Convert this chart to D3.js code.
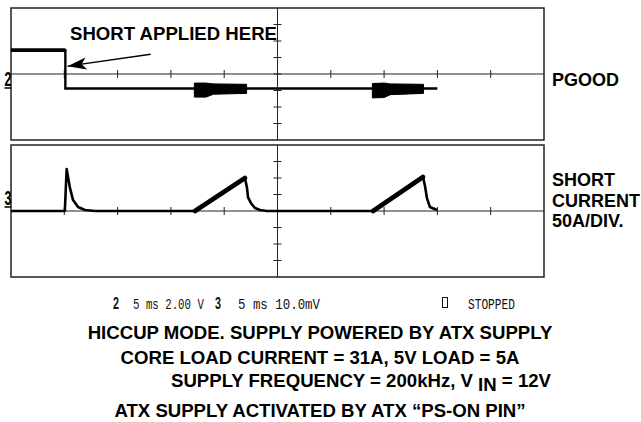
<!DOCTYPE html>
<html><head><meta charset="utf-8">
<script src="https://cdn.jsdelivr.net/npm/d3@7/dist/d3.min.js"></script>
<style>body{margin:0;background:#fff}svg{display:block}</style>
</head><body>
<svg id="c" width="641" height="422"></svg>
<script>
// ---- data ----
const timeDomain = [0, 50];            // ms, 5 ms/div, 10 divisions
const voltDomain = [-8, 8];            // V, 2 V/div, 8 divisions
const ampDomain = [-200, 200];         // A, 50 A/div, 8 divisions
const xTicks = [0,5,10,15,20,25,30,35,40,45,50];
const vTicks = [-8,-6,-4,-2,0,2,4,6,8];
const aTicks = [-200,-150,-100,-50,0,50,100,150,200];

// PGOOD trace (V)
const pgoodT = [0, 5.1, 5.1, 40];
const pgoodV = [2.9, 2.9, -1.75, -1.75];
// PGOOD noise bursts envelope (V)
const burst1T = [17.2, 18.3, 19.0, 22.1];
const burst1Hi = [-1.1, -1.1, -1.2, -1.25];
const burst1Lo = [-2.8, -2.8, -2.45, -2.35];
const burst2T = [33.9, 35.0, 35.6, 38.7];
const burst2Hi = [-1.15, -1.1, -1.2, -1.25];
const burst2Lo = [-2.9, -2.85, -2.5, -2.35];

// short current trace (A)
const curT = [0, 5.05, 5.22, 5.53, 5.82, 6.29, 6.94, 7.9, 17.26, 21.95, 22.14, 22.23, 22.51, 22.89, 23.36, 24.0, 33.96, 38.65, 38.84, 39.02, 39.3, 39.96];
const curA = [0, 0, 127, 70, 33, 12, 3, 0, 0, 100, 70, 42, 24, 9, 3, 0, 0, 103, 75, 39, 12, 3];
const ramps = [[17.26, 21.95], [33.96, 38.65]];

// texts
const rightLabels1 = ["PGOOD"];
const rightLabels2 = ["SHORT", "CURRENT", "50A/DIV."];
const annotation = "SHORT APPLIED HERE";
const scopeInfo = ["2", "5 ms 2.00 V", "3", "5 ms 10.0mV", "STOPPED"];
const captions = ["HICCUP MODE. SUPPLY POWERED BY ATX SUPPLY",
                  "CORE LOAD CURRENT = 31A, 5V LOAD = 5A",
                  "ATX SUPPLY ACTIVATED BY ATX \u201CPS-ON PIN\u201D"];
const freqCaption = ["SUPPLY FREQUENCY = 200kHz, V ", "IN", " = 12V"];

// ---- drawing ----
const svg = d3.select("#c");
const L = 11, R = 544;
const x = d3.scaleLinear().domain(timeDomain).range([L, R]);
const yTop = d3.scaleLinear().domain(voltDomain).range([140, 8]);
const yBot = d3.scaleLinear().domain(ampDomain).range([277, 145]);

function panel(y, ticks) {
  const g = svg.append("g");
  const y0 = y.range()[1], y1 = y.range()[0];
  g.append("rect").attr("x", L).attr("y", y0).attr("width", R - L).attr("height", y1 - y0)
    .attr("fill", "none").attr("stroke", "#222").attr("stroke-width", 1.5);
  const yc = y(0), xc = x(25);
  g.append("line").attr("x1", L).attr("x2", R).attr("y1", yc).attr("y2", yc)
    .attr("stroke", "#222").attr("stroke-width", 1);
  g.append("line").attr("x1", xc).attr("x2", xc).attr("y1", y0).attr("y2", y1)
    .attr("stroke", "#222").attr("stroke-width", 1);
  g.selectAll(".xt").data(xTicks.slice(1, -1)).join("line")
    .attr("x1", d => x(d)).attr("x2", d => x(d)).attr("y1", yc - 4).attr("y2", yc + 4)
    .attr("stroke", "#222").attr("stroke-width", 1);
  g.selectAll(".yt").data(ticks.slice(1, -1)).join("line")
    .attr("y1", d => y(d)).attr("y2", d => y(d)).attr("x1", xc - 4).attr("x2", xc + 4)
    .attr("stroke", "#222").attr("stroke-width", 1);
}
panel(yTop, vTicks);
panel(yBot, aTicks);

// PGOOD trace
const lineTop = d3.line().x(d => x(d[0])).y(d => yTop(d[1]));
svg.append("path").datum(pgoodT.slice(0, 2).map((t, i) => [t, pgoodV[i]]))
  .attr("d", lineTop).attr("fill", "none").attr("stroke", "#000").attr("stroke-width", 3.6);
svg.append("path").datum(pgoodT.map((t, i) => [t, pgoodV[i]]))
  .attr("d", lineTop).attr("fill", "none").attr("stroke", "#000").attr("stroke-width", 2.4);
const areaTop = d3.area().x(d => x(d[0])).y0(d => yTop(d[2])).y1(d => yTop(d[1]));
[[burst1T, burst1Hi, burst1Lo], [burst2T, burst2Hi, burst2Lo]].forEach(([T, H, Lo]) => {
  svg.append("path").datum(T.map((t, i) => [t, H[i], Lo[i]]))
    .attr("d", areaTop).attr("fill", "#000").attr("stroke", "#000").attr("stroke-width", 1);
});

// current trace
const lineBot = d3.line().x(d => x(d[0])).y(d => yBot(d[1]));
const curData = curT.map((t, i) => [t, curA[i]]);
svg.append("path").datum(curData).attr("d", lineBot)
  .attr("fill", "none").attr("stroke", "#000").attr("stroke-width", 2.6).attr("stroke-linejoin", "round");
ramps.forEach(([a, b]) => {
  svg.append("path").datum(curData.filter(d => d[0] >= a && d[0] <= b)).attr("d", lineBot)
    .attr("fill", "none").attr("stroke", "#000").attr("stroke-width", 4.6).attr("stroke-linecap", "round");
});

// text fitted horizontally to a target width by scaling
function fitText(str, x0, yb, width, family, size, weight, fill) {
  const t = svg.append("text").attr("x", 0).attr("y", 0).text(str)
    .attr("font-family", family).attr("font-size", size)
    .attr("font-weight", weight).attr("fill", fill);
  const w = t.node().getComputedTextLength();
  t.attr("transform", `translate(${x0},${yb}) scale(${width / w},1)`);
  return t;
}

// channel markers
const bold = "Liberation Sans, Arial, Helvetica, sans-serif";
function marker(label, yb) {
  fitText(label, 4.5, yb, 7, bold, 21, "bold", "#000");
  svg.append("line").attr("x1", 4.5).attr("x2", 11).attr("y1", yb + 2).attr("y2", yb + 2)
    .attr("stroke", "#000").attr("stroke-width", 1.5);
}
marker("2", 86);
marker("3", 205);

// annotation + arrow
svg.append("text").attr("x", 70).attr("y", 40).text(annotation)
  .attr("font-family", bold).attr("font-weight", "bold").attr("font-size", 18.6).attr("fill", "#000");
const ax1 = x(13.1), ay1 = yTop(2.4), ax2 = x(5.3), ay2 = yTop(0.95);
svg.append("line").attr("x1", ax1).attr("y1", ay1).attr("x2", ax2).attr("y2", ay2)
  .attr("stroke", "#000").attr("stroke-width", 1.4);
svg.append("path").attr("d", (() => {
  const dx = ax1 - ax2, dy = ay1 - ay2, len = Math.hypot(dx, dy);
  const ux = dx / len, uy = dy / len, hl = 19, hw = 6;
  const bx = ax2 + ux * hl, by = ay2 + uy * hl;
  const mx = ax2 + ux * hl * 0.75, my = ay2 + uy * hl * 0.75;
  return `M${ax2},${ay2}L${bx - uy * hw},${by + ux * hw}L${mx},${my}L${bx + uy * hw},${by - ux * hw}Z`;
})()).attr("fill", "#000");

// right labels
svg.append("text").attr("x", 552).attr("y", 86).text(rightLabels1[0])
  .attr("font-family", bold).attr("font-weight", "bold").attr("font-size", 18);
svg.selectAll(".rl2").data(rightLabels2).join("text")
  .attr("x", 552).attr("y", (d, i) => [186, 207, 227][i]).text(d => d)
  .attr("font-family", bold).attr("font-weight", "bold").attr("font-size", 18);

// scope info line
const mono = "Liberation Mono, DejaVu Sans Mono, monospace";
const infoX = [113, 133, 215, 238, 468];
const infoW = [6, 71, 6, 82, 47];
scopeInfo.forEach((s, i) => {
  const isCh = (i === 0 || i === 2);
  fitText(s, infoX[i], 309, infoW[i], isCh ? bold : mono, isCh ? 16 : 14.5,
          isCh ? "bold" : "normal", "#111");
});
svg.append("rect").attr("x", 442.5).attr("y", 297.5).attr("width", 5).attr("height", 10)
  .attr("fill", "none").attr("stroke", "#111").attr("stroke-width", 1);

// captions
svg.selectAll(".cap").data(captions).join("text")
  .attr("x", 320).attr("y", (d, i) => [339, 364, 417][i]).attr("text-anchor", "middle")
  .text(d => d).attr("font-family", bold).attr("font-weight", "bold").attr("font-size", 18.6);
const ft = svg.append("text").attr("x", 171).attr("y", 387)
  .attr("font-family", bold).attr("font-weight", "bold").attr("font-size", 18.6);
ft.append("tspan").text(freqCaption[0]);
ft.append("tspan").attr("dy", 4).text(freqCaption[1]);
ft.append("tspan").attr("dy", -4).text(freqCaption[2]);
</script>
</body></html>
